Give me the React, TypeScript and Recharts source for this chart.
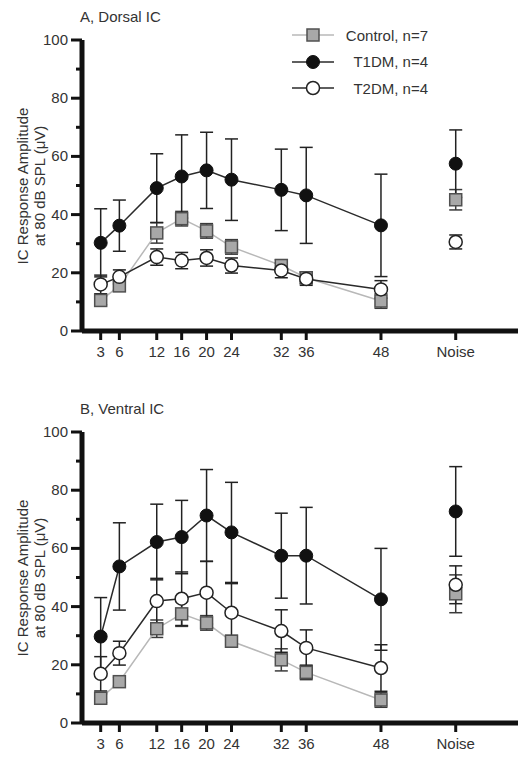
import React from "react";
import {
  ComposedChart,
  Line,
  XAxis,
  YAxis,
  ErrorBar,
  Legend,
} from "recharts";

const FONT = '"Liberation Sans", Arial, sans-serif';

// frequencies (kHz) and the separate "Noise" column
const FREQS = [3, 6, 12, 16, 20, 24, 32, 36, 48];
const NOISE_X = 60;
const X_TICKS = [3, 6, 12, 16, 20, 24, 32, 36, 48, 60];
const Y_TICKS = [0, 10, 20, 30, 40, 50, 60, 70, 80, 90, 100];

// A, Dorsal IC
const dorsalControl = [10.5, 15.5, 33.7, 38.6, 34.4, 28.9, 22.5, 18.3, 10.3];
const dorsalControlErr = [1.5, 1.5, 3.5, 2.5, 2.5, 2.5, 2, 2, 2.5];
const dorsalT1 = [30.3, 36.2, 49.1, 53.1, 55.2, 52.0, 48.5, 46.6, 36.3];
const dorsalT1Err = [11.7, 8.8, 11.8, 14.3, 13.1, 14.0, 14.0, 16.5, 17.6];
const dorsalT2 = [16.0, 18.6, 25.4, 24.2, 25.1, 22.5, 20.8, 17.9, 14.3];
const dorsalT2Err = [3.2, 2.4, 2.8, 2.8, 2.8, 2.6, 2.5, 2.2, 3.0];
const dorsalNoise = { control: 45.1, controlErr: 3.5, t1: 57.5, t1Err: 11.6, t2: 30.6, t2Err: 2.4 };

// B, Ventral IC
const ventralControl = [8.5, 14.2, 32.4, 37.5, 34.4, 28.1, 21.7, 17.4, 7.9];
const ventralControlErr = [1.5, 1.5, 3, 4.3, 2.5, 2, 3.8, 2.5, 2.5];
const ventralT1 = [29.7, 53.8, 62.2, 63.9, 71.3, 65.5, 57.5, 57.5, 42.5];
const ventralT1Err = [13.4, 15, 13, 12.6, 15.8, 17.2, 14.6, 16.6, 17.5];
const ventralT2 = [16.9, 24.0, 41.9, 42.7, 44.8, 37.9, 31.6, 25.8, 18.9];
const ventralT2Err = [5.9, 4.1, 7.8, 9.2, 10.8, 10.0, 7.3, 6.2, 8.0];
const ventralNoise = { control: 44.4, controlErr: 6.5, t1: 72.7, t1Err: 15.4, t2: 47.5, t2Err: 6.5 };

const LEGEND_ITEMS = [
  { name: "Control, n=7", kind: "square", line: "#b8b8b8" },
  { name: "T1DM, n=4", kind: "filled", line: "#2a2a2a" },
  { name: "T2DM, n=4", kind: "open", line: "#2a2a2a" },
];

function buildRows(c: number[], ce: number[], t1: number[], t1e: number[], t2: number[], t2e: number[]) {
  return FREQS.map((f, i) => ({
    x: f,
    control: c[i],
    controlErr: ce[i],
    t1: t1[i],
    t1Err: t1e[i],
    t2: t2[i],
    t2Err: t2e[i],
  }));
}

function marker(kind: string, cx: number, cy: number, key?: string) {
  if (kind === "square") {
    return <rect key={key} x={cx - 6} y={cy - 6} width={12} height={12} fill="#a8a8a8" stroke="#505050" strokeWidth={1.5} />;
  }
  if (kind === "filled") {
    return <circle key={key} cx={cx} cy={cy} r={6.5} fill="#111" stroke="#111" strokeWidth={1} />;
  }
  return <circle key={key} cx={cx} cy={cy} r={6.5} fill="#fff" stroke="#222" strokeWidth={1.5} />;
}

// eslint-disable-next-line @typescript-eslint/no-explicit-any
const squareDot = (p: any) => marker("square", p.cx, p.cy, `sq-${p.index}`);
// eslint-disable-next-line @typescript-eslint/no-explicit-any
const filledDot = (p: any) => marker("filled", p.cx, p.cy, `fc-${p.index}`);
// eslint-disable-next-line @typescript-eslint/no-explicit-any
const openDot = (p: any) => marker("open", p.cx, p.cy, `oc-${p.index}`);

// eslint-disable-next-line @typescript-eslint/no-explicit-any
function YTick({ x, y, payload }: any) {
  const major = payload.value % 20 === 0;
  return (
    <g>
      <line x1={x - (major ? 11 : 6)} x2={x} y1={y} y2={y} stroke="#111" strokeWidth={3} />
      {major && (
        <text x={x - 14} y={y} dy={5} textAnchor="end" fontSize={15} fill="#333" fontFamily={FONT}>
          {payload.value}
        </text>
      )}
    </g>
  );
}

// eslint-disable-next-line @typescript-eslint/no-explicit-any
function XTick({ x, y, payload }: any) {
  return (
    <g>
      <line x1={x} x2={x} y1={y} y2={y + 9} stroke="#111" strokeWidth={3} />
      <text x={x} y={y + 26} textAnchor="middle" fontSize={15} fill="#333" fontFamily={FONT}>
        {payload.value === NOISE_X ? "Noise" : payload.value}
      </text>
    </g>
  );
}

function LegendBox() {
  return (
    <div style={{ width: 136, fontFamily: FONT, fontSize: 15, color: "#333" }}>
      {LEGEND_ITEMS.map((item) => (
        <div key={item.name} style={{ display: "flex", alignItems: "center", height: 26.5 }}>
          <svg width={42} height={20} style={{ display: "block" }}>
            <line x1={0} x2={42} y1={10} y2={10} stroke={item.line} strokeWidth={1.5} />
            {marker(item.kind, 21, 10)}
          </svg>
          <span style={{ flex: 1, textAlign: "right", whiteSpace: "nowrap" }}>{item.name}</span>
        </div>
      ))}
    </div>
  );
}

function PanelText({ title }: { title: string }) {
  return (
    <g fontFamily={FONT} fill="#333" fontSize={15}>
      <text x={80} y={22}>{title}</text>
      <text x={27.5} y={186} transform="rotate(-90, 27.5, 186)" textAnchor="middle">
        IC Response Amplitude
      </text>
      <text x={44.5} y={186} transform="rotate(-90, 44.5, 186)" textAnchor="middle">
        at 80 dB SPL (μV)
      </text>
    </g>
  );
}

interface PanelProps {
  title: string;
  rows: ReturnType<typeof buildRows>;
  noise: typeof dorsalNoise;
  showLegend?: boolean;
}

function Panel({ title, rows, noise, showLegend = false }: PanelProps) {
  const noiseRows = [{ x: NOISE_X, ...noise }];
  const errProps = { width: 6.5, strokeWidth: 1.5, direction: "y" as const, isAnimationActive: false };
  return (
    <ComposedChart width={529} height={365} data={rows} margin={{ top: 40, right: 11, bottom: 0, left: 0 }}>
      <XAxis
        dataKey="x"
        type="number"
        domain={[0, 70]}
        ticks={X_TICKS}
        interval={0}
        height={34}
        tickSize={0}
        tickMargin={0}
        tick={<XTick />}
        axisLine={{ stroke: "#111", strokeWidth: 5 }}
        tickLine={false}
      />
      <YAxis
        type="number"
        domain={[0, 100]}
        ticks={Y_TICKS}
        interval={0}
        width={82}
        tickSize={0}
        tickMargin={0}
        tick={<YTick />}
        axisLine={{ stroke: "#111", strokeWidth: 5 }}
        tickLine={false}
        label={{ content: () => <PanelText title={title} /> }}
      />
      {showLegend && (
        <Legend
          layout="horizontal"
          verticalAlign="middle"
          align="center"
          content={<LegendBox />}
          wrapperStyle={{ left: 292, top: 22, width: 136 }}
        />
      )}
      <Line type="linear" dataKey="control" stroke="#b8b8b8" strokeWidth={1.5} dot={squareDot} activeDot={false} isAnimationActive={false}>
        <ErrorBar dataKey="controlErr" stroke="#3a3a3a" {...errProps} />
      </Line>
      <Line data={noiseRows} type="linear" dataKey="control" stroke="none" dot={squareDot} activeDot={false} isAnimationActive={false}>
        <ErrorBar dataKey="controlErr" stroke="#3a3a3a" {...errProps} />
      </Line>
      <Line type="linear" dataKey="t1" stroke="#2a2a2a" strokeWidth={1.5} dot={filledDot} activeDot={false} isAnimationActive={false}>
        <ErrorBar dataKey="t1Err" stroke="#222" {...errProps} />
      </Line>
      <Line data={noiseRows} type="linear" dataKey="t1" stroke="none" dot={filledDot} activeDot={false} isAnimationActive={false}>
        <ErrorBar dataKey="t1Err" stroke="#222" {...errProps} />
      </Line>
      <Line type="linear" dataKey="t2" stroke="#2a2a2a" strokeWidth={1.5} dot={openDot} activeDot={false} isAnimationActive={false}>
        <ErrorBar dataKey="t2Err" stroke="#222" {...errProps} />
      </Line>
      <Line data={noiseRows} type="linear" dataKey="t2" stroke="none" dot={openDot} activeDot={false} isAnimationActive={false}>
        <ErrorBar dataKey="t2Err" stroke="#222" {...errProps} />
      </Line>
    </ComposedChart>
  );
}

export default function App() {
  const dorsalRows = buildRows(dorsalControl, dorsalControlErr, dorsalT1, dorsalT1Err, dorsalT2, dorsalT2Err);
  const ventralRows = buildRows(ventralControl, ventralControlErr, ventralT1, ventralT1Err, ventralT2, ventralT2Err);
  return (
    <div style={{ position: "absolute", left: 0, top: 0, width: 529, height: 757, background: "#fff", overflow: "hidden" }}>
      <div style={{ position: "absolute", left: 0, top: 0 }}>
        <Panel title="A, Dorsal IC" rows={dorsalRows} noise={dorsalNoise} showLegend />
      </div>
      <div style={{ position: "absolute", left: 0, top: 392 }}>
        <Panel title="B, Ventral IC" rows={ventralRows} noise={ventralNoise} />
      </div>
    </div>
  );
}
